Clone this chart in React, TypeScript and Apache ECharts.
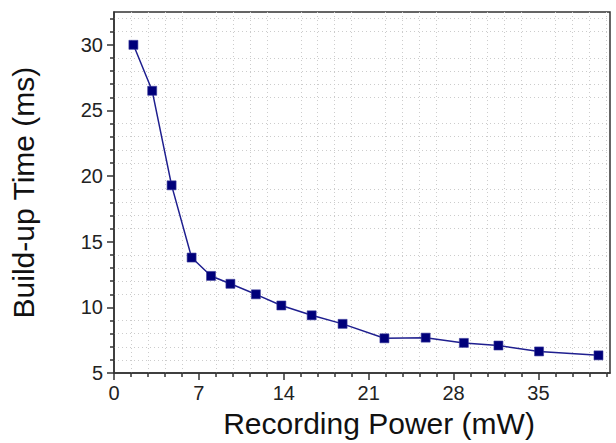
import React, { useEffect, useRef } from "react";
import * as echarts from "echarts";

// Data
const recordingPower: number[] = [1.6, 3.15, 4.75, 6.4, 8.0, 9.6, 11.7, 13.8, 16.3, 18.85, 22.3, 25.7, 28.85, 31.7, 35.05, 39.95];
const buildUpTime: number[] = [30.0, 26.5, 19.3, 13.8, 12.4, 11.8, 11.0, 10.15, 9.4, 8.75, 7.65, 7.7, 7.3, 7.1, 6.65, 6.35];

const xMajorTicks: number[] = [0, 7, 14, 21, 28, 35];
const xMinorTicks: number[] = [1.4, 2.8, 4.2, 5.6, 8.4, 9.8, 11.2, 12.6, 15.4, 16.8, 18.2, 19.6, 22.4, 23.8, 25.2, 26.6, 29.4, 30.8, 32.2, 33.6, 36.4, 37.8, 39.2, 40.6];
const yMajorTicks: number[] = [5, 10, 15, 20, 25, 30];
const yMinorTicks: number[] = [6, 7, 8, 9, 11, 12, 13, 14, 16, 17, 18, 19, 21, 22, 23, 24, 26, 27, 28, 29, 31, 32];

const xTitle = "Recording Power (mW)";
const yTitle = "Build-up Time (ms)";

export default function App() {
  const ref = useRef<HTMLDivElement>(null);
  useEffect(() => {
    if (!ref.current) return;
    const chart = echarts.init(ref.current, null, { renderer: "svg" });
    const font = "'Liberation Sans', Arial, sans-serif";
    const axisColor = "#333333";
    const gridLine = { show: true, lineStyle: { color: "#cccccc", width: 1, type: [1, 3] as any } };
    chart.setOption({
      animation: false,
      backgroundColor: "#ffffff",
      textStyle: { fontFamily: font },
      grid: {
        left: 113,
        right: 6,
        top: 12,
        bottom: 65,
        show: true,
        borderColor: axisColor,
        borderWidth: 1.5,
        backgroundColor: "transparent",
      },
      xAxis: [
        {
          type: "value",
          min: 0,
          max: 40.9,
          interval: 7,
          position: "bottom",
          axisLine: { show: true, onZero: false, lineStyle: { color: axisColor, width: 1.5 } },
          axisTick: { show: true, inside: false, length: 7, customValues: xMajorTicks, lineStyle: { color: axisColor, width: 1.5 } },
          axisLabel: { customValues: xMajorTicks, fontSize: 20, color: "#222", margin: 10, fontFamily: font },
          splitLine: { show: false },
          name: xTitle,
          nameLocation: "middle",
          nameGap: 34,
          nameTextStyle: { fontSize: 30, color: "#111", fontFamily: font, padding: [0, 0, 0, 34] },
        },
        {
          type: "value",
          min: 0,
          max: 40.9,
          interval: 1.4,
          position: "bottom",
          axisLine: { show: false, onZero: false },
          axisTick: { show: true, inside: false, length: 4, customValues: xMinorTicks, lineStyle: { color: axisColor, width: 1.5 } },
          axisLabel: { show: false },
          splitLine: gridLine,
        },
      ],
      yAxis: [
        {
          type: "value",
          min: 5,
          max: 32.5,
          interval: 5,
          position: "left",
          axisLine: { show: true, onZero: false, lineStyle: { color: axisColor, width: 1.5 } },
          axisTick: { show: true, inside: false, length: 7, customValues: yMajorTicks, lineStyle: { color: axisColor, width: 1.5 } },
          axisLabel: { customValues: yMajorTicks, fontSize: 20, color: "#222", margin: 11, fontFamily: font },
          splitLine: { show: false },
          name: yTitle,
          nameLocation: "middle",
          nameGap: 76,
          nameTextStyle: { fontSize: 30, color: "#111", fontFamily: font },
        },
        {
          type: "value",
          min: 5,
          max: 32.5,
          interval: 1,
          position: "left",
          axisLine: { show: false, onZero: false },
          axisTick: { show: true, inside: false, length: 4, customValues: yMinorTicks, lineStyle: { color: axisColor, width: 1.5 } },
          axisLabel: { show: false },
          splitLine: gridLine,
        },
      ],
      series: [
        {
          type: "line",
          xAxisIndex: 0,
          yAxisIndex: 0,
          data: recordingPower.map((x, i) => [x, buildUpTime[i]]),
          symbol: "rect",
          symbolSize: 9,
          lineStyle: { color: "#1f1f8f", width: 1.5 },
          itemStyle: { color: "#00007a", borderColor: "#3a3a9a", borderWidth: 0.6 },
          z: 5,
        },
      ],
    });
    return () => chart.dispose();
  }, []);
  return <div ref={ref} style={{ position: "fixed", left: 0, top: 0, width: 616, height: 443 }} />;
}
